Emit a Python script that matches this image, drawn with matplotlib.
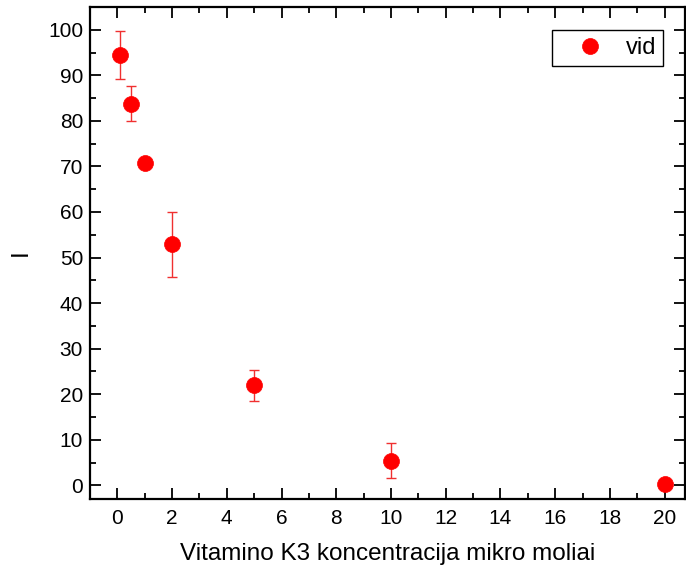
import numpy as np
import matplotlib.pyplot as plt
from matplotlib.ticker import MultipleLocator

# data
conc = [0.1, 0.5, 1, 2, 5, 10, 20]
intensity = [94.5, 83.8, 70.8, 52.9, 22.0, 5.4, 0.2]
err = [5.3, 3.8, 0.0, 7.2, 3.4, 3.8, 0.0]

plt.rcParams['font.family'] = ['Liberation Sans', 'DejaVu Sans']

fig = plt.figure(figsize=(6.86, 5.74), dpi=100)
ax = fig.add_axes([0.1312, 0.1307, 0.8675, 0.8571])

# error bars first, then the markers on top (legend uses the markers only)
ax.errorbar(conc, intensity, yerr=err, fmt='none', ecolor='#f03030',
            elinewidth=1.0, capsize=3.4, capthick=1.0)
ax.plot(conc, intensity, 'o', color='red', markersize=11.5,
        markeredgecolor='red', markeredgewidth=0.5, label='vid')

ax.set_xlim(-1, 20.75)
ax.set_ylim(-3, 105)
ax.xaxis.set_major_locator(MultipleLocator(2))
ax.xaxis.set_minor_locator(MultipleLocator(1))
ax.yaxis.set_major_locator(MultipleLocator(10))
ax.yaxis.set_minor_locator(MultipleLocator(5))

ax.tick_params(which='both', direction='in', top=True, right=True,
               width=1.3, labelsize=15, pad=7)
ax.tick_params(which='major', length=8)
ax.tick_params(which='minor', length=4.5)
ax.tick_params(axis='y', pad=5)
for s in ax.spines.values():
    s.set_linewidth(1.6)

ax.set_xlabel('Vitamino K3 koncentracija mikro moliai', fontsize=17.5, labelpad=11)
ax.set_ylabel('I', fontsize=17.5, labelpad=12)

leg = ax.legend(loc='upper right', fontsize=17, fancybox=False, framealpha=1,
                edgecolor='black', handlelength=2.6, handletextpad=0.2,
                borderpad=0.3, borderaxespad=0, bbox_to_anchor=(0.963, 0.953))
leg.get_frame().set_linewidth(1.0)

fig.savefig('out.png', dpi=100)
